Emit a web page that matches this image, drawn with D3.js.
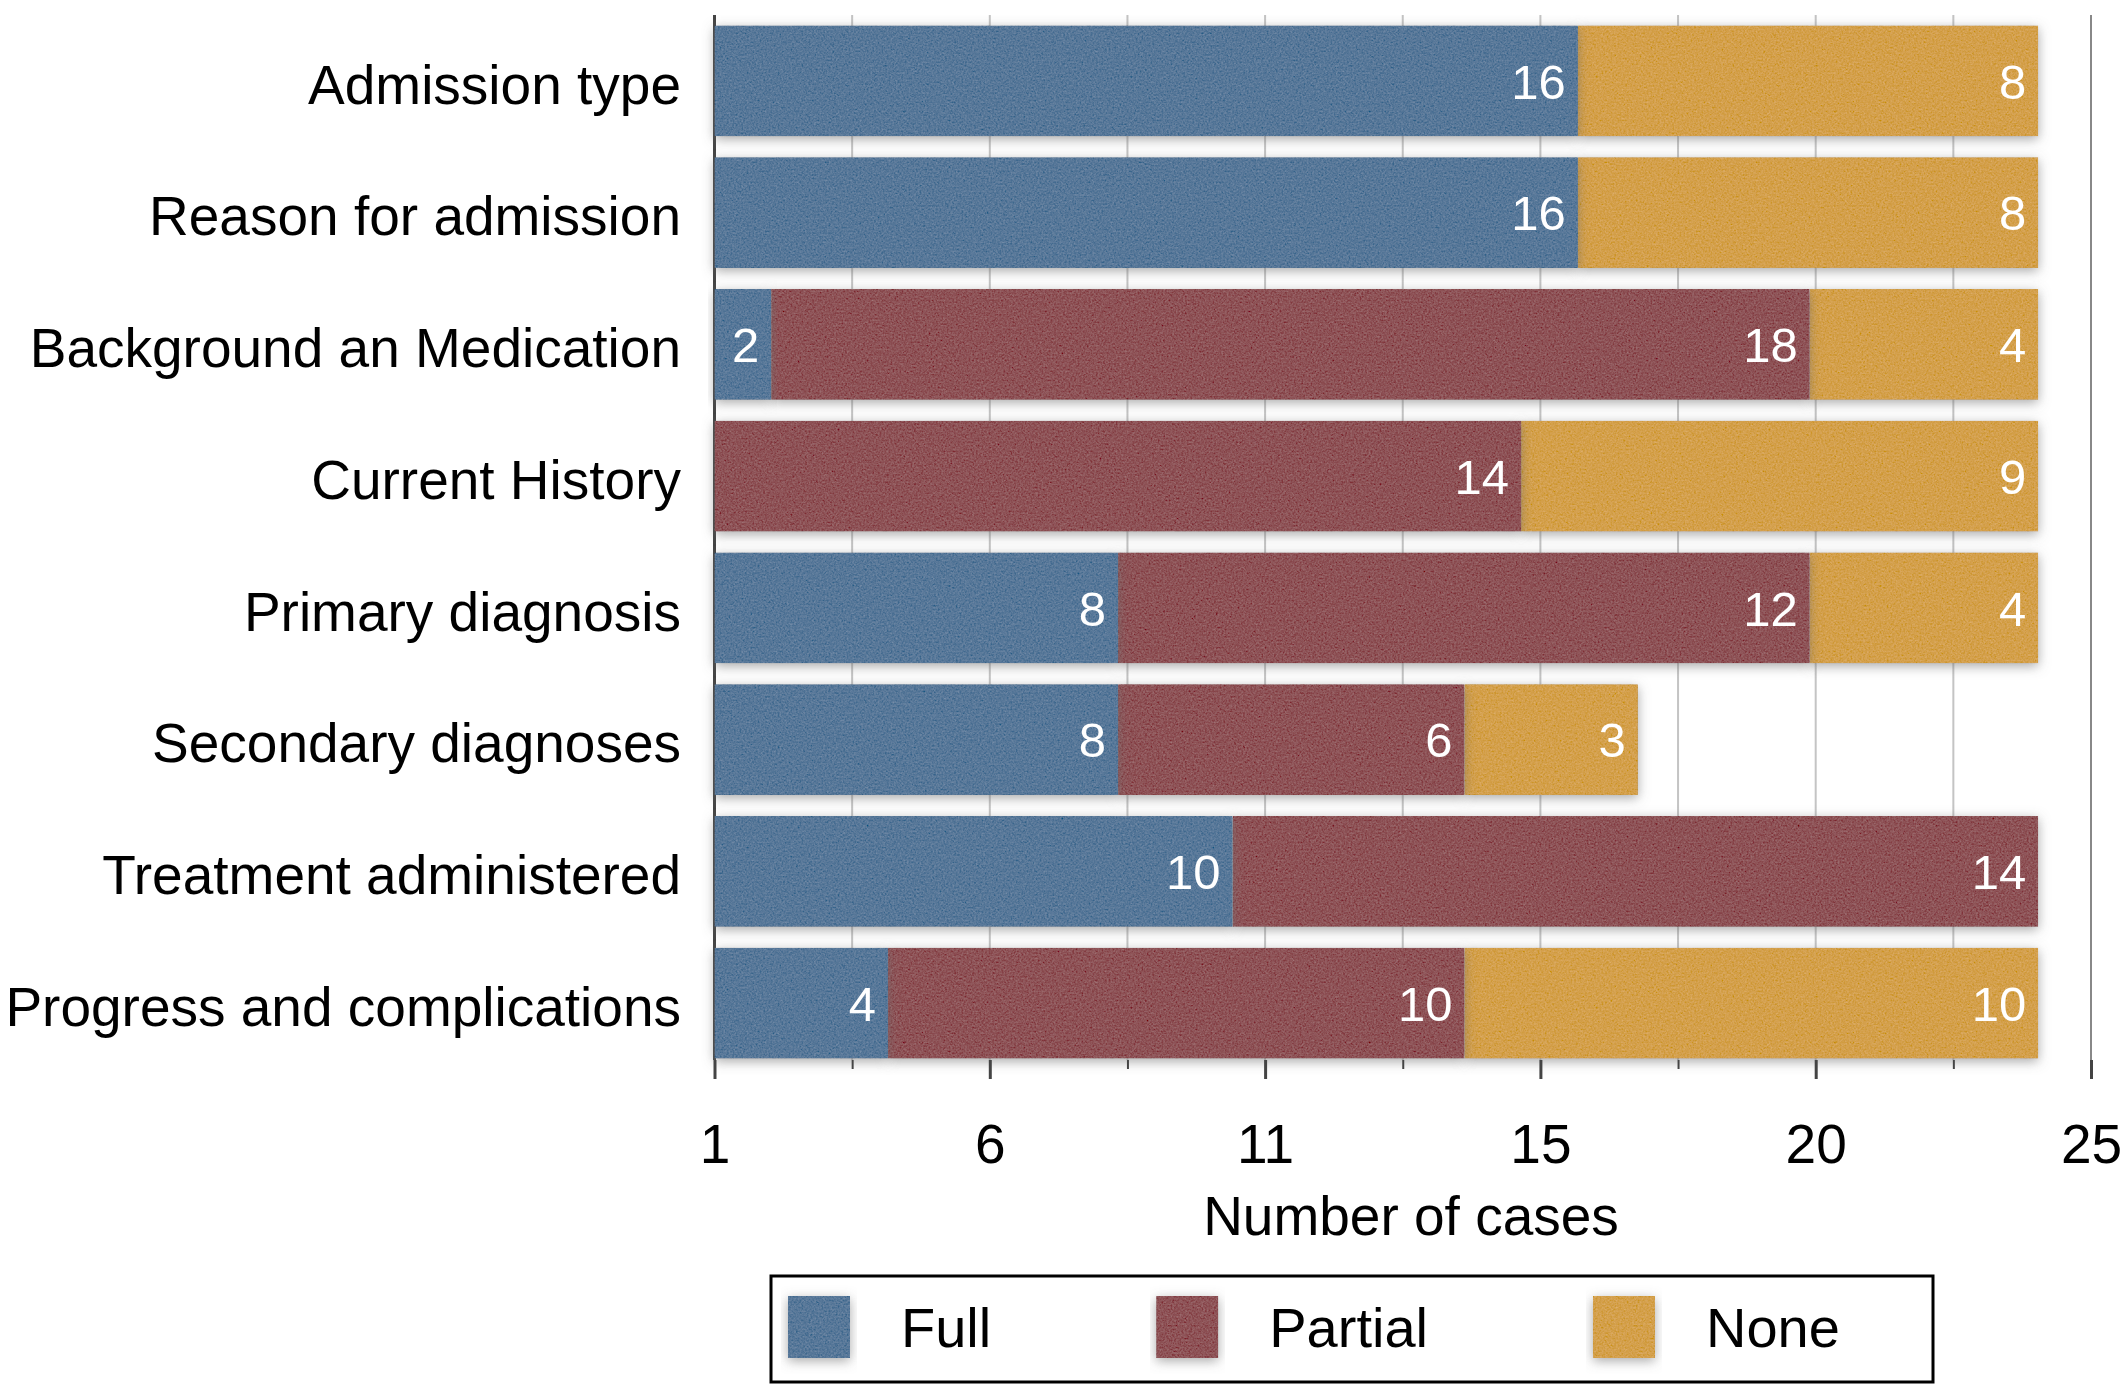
<!DOCTYPE html>
<html>
<head>
<meta charset="utf-8">
<script src="https://cdn.jsdelivr.net/npm/d3@7"></script>
<style>
  body { margin: 0; background: #fff; }
  text { font-family: "Liberation Sans", Arial, sans-serif; }
</style>
</head>
<body>
<svg id="chart"></svg>
<script>
// categories, top to bottom
const categories = ["Admission type", "Reason for admission", "Background an Medication",
  "Current History", "Primary diagnosis", "Secondary diagnoses",
  "Treatment administered", "Progress and complications"];

// counts printed on the bars
const fullCases    = [16, 16, 2, 0, 8, 8, 10, 4];
const partialCases = [0, 0, 18, 14, 12, 6, 14, 10];
const noneCases    = [8, 8, 4, 9, 4, 3, 0, 10];

// segment lengths as drawn in the picture (axis units)
const fullLen    = [15.68, 15.68, 1.03, 0, 7.33, 7.33, 9.41, 3.15];
const partialLen = [0, 0, 18.86, 14.65, 12.56, 6.29, 14.63, 10.47];
const noneLen    = [8.36, 8.36, 4.15, 9.39, 4.15, 3.15, 0, 10.42];

// axis ticks
const tickValues = [0, 2.5, 5, 7.5, 10, 12.5, 15, 17.5, 20, 22.5, 25];
const majorTicks = [0, 5, 10, 15, 20, 25];
const tickLabels = ["1", "6", "11", "15", "20", "25"];

const seriesNames = ["Full", "Partial", "None"];
const colors = ["#587899", "#8e5357", "#d4a04c"];

const w = 2122, h = 1385;
const svg = d3.select("#chart").attr("width", w).attr("height", h);

// filters: paper texture + soft shadow
const defs = svg.append("defs");
const f = defs.append("filter").attr("id", "tex")
  .attr("x", "-10%").attr("y", "-25%").attr("width", "120%").attr("height", "150%");
f.append("feTurbulence").attr("type", "fractalNoise").attr("baseFrequency", 0.55)
  .attr("numOctaves", 3).attr("seed", 4).attr("result", "noise");
f.append("feColorMatrix").attr("in", "noise").attr("type", "matrix")
  .attr("values", "0.33 0.33 0.33 0 0  0.33 0.33 0.33 0 0  0.33 0.33 0.33 0 0  0 0 0 0 1")
  .attr("result", "gray");
f.append("feComposite").attr("in", "SourceGraphic").attr("in2", "gray")
  .attr("operator", "arithmetic").attr("k1", 0).attr("k2", 1).attr("k3", 0.3).attr("k4", -0.15)
  .attr("result", "mix");
f.append("feComposite").attr("in", "mix").attr("in2", "SourceAlpha").attr("operator", "in").attr("result", "body");
f.append("feGaussianBlur").attr("in", "SourceAlpha").attr("stdDeviation", 6).attr("result", "blur");
f.append("feOffset").attr("in", "blur").attr("dx", 0).attr("dy", 3).attr("result", "off");
f.append("feFlood").attr("flood-color", "#6f6f6f").attr("flood-opacity", 0.6);
f.append("feComposite").attr("in2", "off").attr("operator", "in").attr("result", "shadow");
const m = f.append("feMerge");
m.append("feMergeNode").attr("in", "shadow");
m.append("feMergeNode").attr("in", "body");

// scales
const xScale = d3.scaleLinear().domain([0, 25]).range([714.5, 2091]);
const yScale = d3.scaleBand().domain(categories).range([15, 1069])
  .paddingInner(0.16).paddingOuter(0.08);
const axisY = 1060;

// gridlines
svg.append("g").selectAll("line")
  .data(tickValues)
  .enter()
  .append("line")
  .attr("x1", d => xScale(d)).attr("x2", d => xScale(d))
  .attr("y1", 15).attr("y2", axisY)
  .attr("stroke", d => d === 0 ? "#444" : (d === 25 ? "#888" : "#c4c4c4"))
  .attr("stroke-width", d => d === 0 ? 3 : 2);

// stacked segments
let rows = categories.map((c, i) => {
  let lens = [fullLen[i], partialLen[i], noneLen[i]];
  let counts = [fullCases[i], partialCases[i], noneCases[i]];
  let start = 0;
  return lens.map((len, k) => {
    let seg = { cat: c, k: k, x0: start, x1: start + len, count: counts[k] };
    start += len;
    return seg;
  });
});
let segs = rows.flat().filter(s => s.x1 > s.x0);

// later segments first so earlier ones cast shadow on them
svg.append("g").selectAll("rect")
  .data(segs.slice().sort((a, b) => b.k - a.k))
  .enter()
  .append("rect")
  .attr("x", d => xScale(d.x0))
  .attr("y", d => yScale(d.cat))
  .attr("width", d => xScale(d.x1) - xScale(d.x0))
  .attr("height", yScale.bandwidth())
  .attr("fill", d => colors[d.k])
  .attr("filter", "url(#tex)");

// value labels
svg.append("g").selectAll("text")
  .data(segs.filter(s => s.count > 0))
  .enter()
  .append("text")
  .attr("x", d => xScale(d.x1) - 12)
  .attr("y", d => yScale(d.cat) + yScale.bandwidth() / 2)
  .attr("dy", "0.36em")
  .attr("text-anchor", "end")
  .attr("fill", "#fff")
  .attr("font-size", 49)
  .text(d => d.count);

// category labels
svg.append("g").selectAll("text")
  .data(categories)
  .enter()
  .append("text")
  .attr("x", 681)
  .attr("y", d => yScale(d) + yScale.bandwidth() / 2 + 3)
  .attr("dy", "0.36em")
  .attr("text-anchor", "end")
  .attr("font-size", 55)
  .attr("fill", "#000")
  .text(d => d);

// x axis
let xAxis = d3.axisBottom(xScale)
  .tickValues(tickValues)
  .tickSize(0)
  .tickFormat("");
let gx = svg.append("g").attr("transform", "translate(0," + axisY + ")").call(xAxis);
gx.select(".domain").remove();
gx.selectAll(".tick line")
  .attr("y2", d => majorTicks.includes(d) ? 19 : 9)
  .attr("stroke", "#444")
  .attr("stroke-width", d => majorTicks.includes(d) ? 3 : 2);
gx.selectAll(".tick").filter(d => majorTicks.includes(d))
  .append("text")
  .attr("y", 103)
  .attr("text-anchor", "middle")
  .attr("fill", "#000")
  .attr("font-size", 55)
  .text(d => tickLabels[majorTicks.indexOf(d)]);

svg.append("text")
  .attr("x", 1411).attr("y", 1235)
  .attr("text-anchor", "middle")
  .attr("font-size", 55)
  .text("Number of cases");

// legend
let lg = svg.append("g");
lg.append("rect")
  .attr("x", 771).attr("y", 1276).attr("width", 1162).attr("height", 106)
  .attr("fill", "#fff").attr("stroke", "#000").attr("stroke-width", 3);
let lx = 788;
seriesNames.forEach((name, k) => {
  lg.append("rect")
    .attr("x", lx).attr("y", 1296).attr("width", 62).attr("height", 62)
    .attr("fill", colors[k]).attr("filter", "url(#tex)");
  let t = lg.append("text")
    .attr("x", lx + 113).attr("y", 1327).attr("dy", "0.36em")
    .attr("font-size", 56)
    .text(name);
  lx = lx + 113 + t.node().getComputedTextLength() + 165;
});
</script>
</body>
</html>
